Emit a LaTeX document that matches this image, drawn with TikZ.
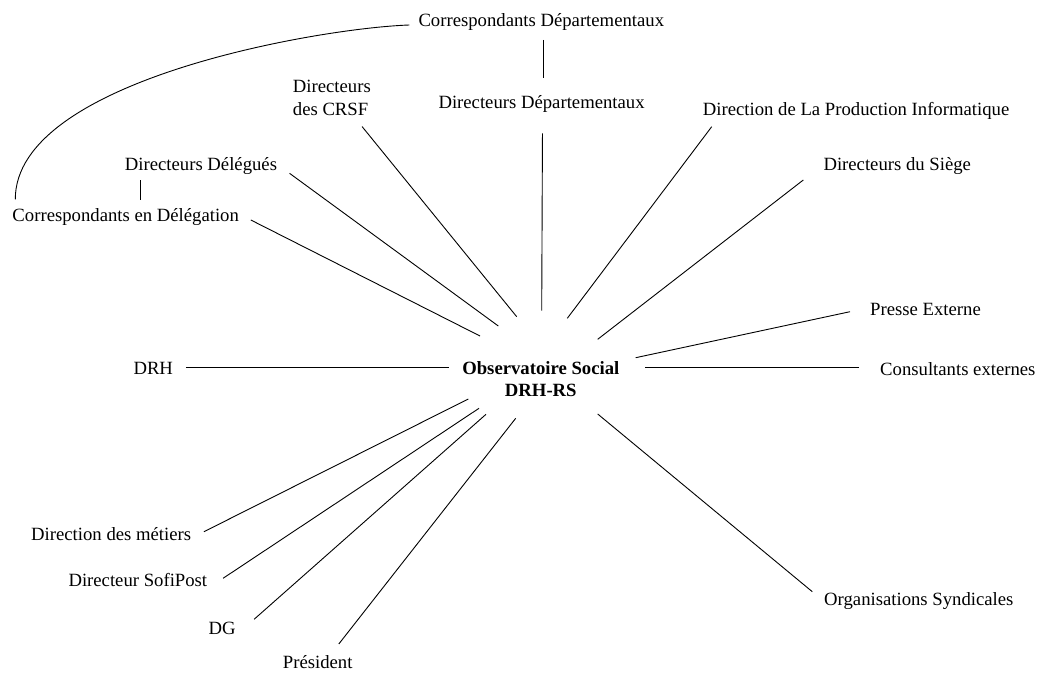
\documentclass[tikz,border=0pt]{standalone}
\usepackage{fontspec}
\setmainfont{Liberation Serif}

\begin{document}
\begin{tikzpicture}[x=1pt, y=-1pt, font=\fontsize{18.7}{22.5}\selectfont,
        lbl/.style={inner sep=0pt, anchor=base west},
        spoke/.style={line width=0.9pt}]
    \useasboundingbox (0,0) rectangle (1041,674);

    \node[inner sep=0pt, align=center, font=\fontsize{18.7}{22.7}\selectfont\bfseries] (obs) at (540.8,379) {Observatoire Social\\DRH-RS};

    \node[lbl] (cdep) at (418.3,26.7) {Correspondants Départementaux};
    \node[lbl] (ddep) at (438.3,108.3) {Directeurs Départementaux};
    \node[lbl, anchor=north west, align=left] (crsf) at (292.7,80.3) {Directeurs\\des CRSF};
    \node[lbl] (ddel) at (124.7,170) {Directeurs Délégués};
    \node[lbl] (cdel) at (12.3,221.7) {Correspondants en Délégation};
    \node[lbl] (dpi) at (702.7,116) {Direction de La Production Informatique};
    \node[lbl] (dsiege) at (823.3,170) {Directeurs du Siège};
    \node[lbl] (presse) at (870,315.7) {Presse Externe};
    \node[lbl] (consult) at (880,375) {Consultants externes};
    \node[lbl] (orga) at (824,605) {Organisations Syndicales};
    \node[lbl] (drh) at (133.3,374.3) {DRH};
    \node[lbl] (metiers) at (31,540) {Direction des métiers};
    \node[lbl] (sofi) at (68.3,586.7) {Directeur SofiPost};
    \node[lbl] (dg) at (208.3,634) {DG};
    \node[lbl] (pres) at (282.7,668) {Président};

    \draw[spoke] ([shift={(2.4,13.3)}]cdep.base) -- ++(0,38.3);
    \draw[spoke] ([shift={(15.6,10)}]ddel.base west) -- ++(0,20);
    \draw[spoke] ([shift={(3,-22.4)}]cdel.base west) .. controls (15,80) and (320,28) .. ([shift={(-9,-1.7)}]cdep.base west);

    \draw[spoke] ([shift={(11.7,-1.7)}]cdel.base east) -- ([shift={(-60.8,-43)}]obs.center);
    \draw[spoke] ([shift={(12.3,3.3)}]ddel.base east) -- ([shift={(-42.5,-53)}]obs.center);
    \draw[spoke] ([shift={(-8.9,10.8)}]crsf.south east) -- ([shift={(-24.1,-62.3)}]obs.center);
    \draw[spoke] ([shift={(0.9,25)}]ddep.base) -- ([shift={(0.9,-68.3)}]obs.center);
    \draw[spoke] ([shift={(9,10.7)}]dpi.base west) -- ([shift={(26.5,-60.7)}]obs.center);
    \draw[spoke] ([shift={(-20,10)}]dsiege.base west) -- ([shift={(56.9,-39.7)}]obs.center);
    \draw[spoke] ([shift={(-20,-4)}]presse.base west) -- ([shift={(94.9,-21.3)}]obs.center);
    \draw[spoke] ([shift={(-21,-7.7)}]consult.base west) -- ([shift={(104.2,-11.7)}]obs.center);
    \draw[spoke] ([shift={(12.7,-7)}]drh.base east) -- ([shift={(-91.8,-11.7)}]obs.center);
    \draw[spoke] ([shift={(12.6,-8.3)}]metiers.base east) -- ([shift={(-72.5,20)}]obs.center);
    \draw[spoke] ([shift={(15.7,-8.4)}]sofi.base east) -- ([shift={(-61.8,29.3)}]obs.center);
    \draw[spoke] ([shift={(18.4,-14.7)}]dg.base east) -- ([shift={(-54.8,35.3)}]obs.center);
    \draw[spoke] ([shift={(21.1,-24)}]pres.base) -- ([shift={(-25.1,39.3)}]obs.center);
    \draw[spoke] ([shift={(-11.7,-13.3)}]orga.base west) -- ([shift={(56.9,35)}]obs.center);
\end{tikzpicture}
\end{document}
